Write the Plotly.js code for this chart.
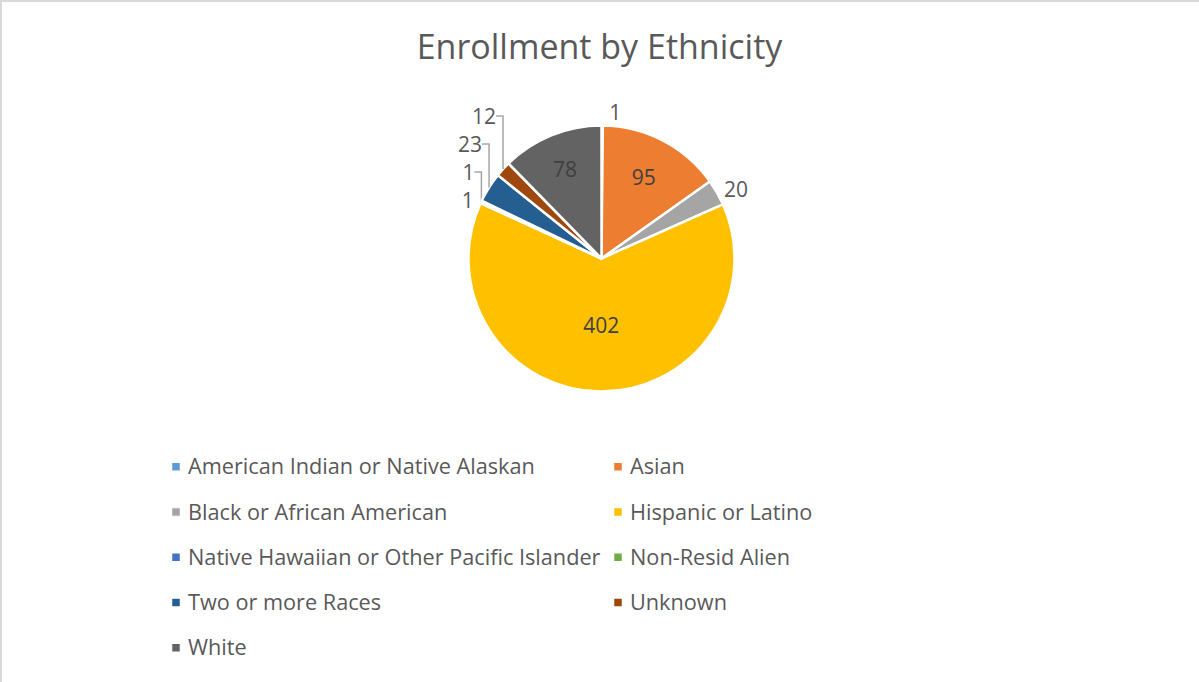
<!DOCTYPE html>
<html>
<head>
<meta charset="utf-8">
<script src="https://cdn.plot.ly/plotly-3.0.1.min.js"></script>
<style>html,body{margin:0;padding:0;background:#fff;}#chart{width:1199px;height:682px;}</style>
</head>
<body>
<div id="chart"></div>
<script>
const categories = [
  "American Indian or Native Alaskan",
  "Asian",
  "Black or African American",
  "Hispanic or Latino",
  "Native Hawaiian or Other Pacific Islander",
  "Non-Resid Alien",
  "Two or more Races",
  "Unknown",
  "White"
];
const enrollment = [1, 95, 20, 402, 1, 1, 23, 12, 78];
const sliceColors = ["#5B9BD5", "#ED7D31", "#A5A5A5", "#FFC000", "#4472C4", "#70AD47", "#255E91", "#9E480E", "#636363"];
const labelPlacement = ["outside", "inside", "outside", "inside", "outside", "outside", "outside", "outside", "inside"];
const chartTitle = "Enrollment by Ethnicity";

const W = 1199, H = 682;
const cx = 601.5, cy = 258.5, r = 133;
const FONT = "Open Sans, sans-serif";
const legendTextSize = 21.7;

const trace = {
  type: "pie",
  labels: categories,
  values: enrollment,
  sort: false,
  direction: "clockwise",
  rotation: 0,
  marker: { colors: sliceColors, line: { color: "#ffffff", width: 2.5 } },
  textinfo: "value",
  textposition: labelPlacement,
  insidetextorientation: "horizontal",
  insidetextfont: { family: FONT, size: 21, color: "#404040" },
  outsidetextfont: { family: FONT, size: 21, color: "#595959" },
  hoverinfo: "label+value+percent",
  domain: {
    x: [(cx - r) / W, (cx + r) / W],
    y: [1 - (cy + r) / H, 1 - (cy - r) / H]
  },
  automargin: false
};

const layout = {
  width: W, height: H,
  margin: { l: 0, r: 0, t: 0, b: 0 },
  paper_bgcolor: "#ffffff",
  title: {
    text: chartTitle,
    font: { family: FONT, size: 34, color: "#595959" },
    x: 0.5, xanchor: "center", y: 1 - 47 / H, yanchor: "middle"
  },
  showlegend: true,
  legend: {
    orientation: "h",
    x: 148 / W, xanchor: "left",
    y: 1 - 434 / H, yanchor: "top",
    entrywidth: 397, entrywidthmode: "pixels",
    traceorder: "normal",
    bgcolor: "rgba(0,0,0,0)",
    font: { family: FONT, size: 32.5, color: "#595959" },
    itemclick: false
  },
  shapes: [
    { type: "line", xref: "paper", yref: "paper", x0: 0, x1: 1, y0: 1 - 1 / H, y1: 1 - 1 / H, line: { color: "#D9D9D9", width: 2 } },
    { type: "line", xref: "paper", yref: "paper", x0: 1 / W, x1: 1 / W, y0: 0, y1: 1, line: { color: "#D9D9D9", width: 2 } }
  ]
};

Plotly.newPlot("chart", [trace], layout, { displayModeBar: false }).then(gd => {
  // visible legend label size smaller than the row-spacing font
  document.querySelectorAll(".legend .traces").forEach(g => {
    const t = g.querySelector(".legendtext");
    if (t) t.style.fontSize = legendTextSize + "px";
  });
  document.querySelectorAll(".legend .traces").forEach(g => {
    const t = g.querySelector(".legendtext");
    const pts = g.querySelector(".legendpoints");
    const sym = g.querySelector("path.legendpie");
    if (sym) sym.setAttribute("d", "M5,5H-5V-5H5Z");
    if (t && pts) {
      const tb = t.getBBox();
      const textCenter = tb.y + tb.height / 2 + 1;
      pts.setAttribute("transform", "translate(8," + textCenter.toFixed(1) + ")");
    }
  });
  // light grey leader lines like the reference
  document.querySelectorAll("path.textline").forEach(p => {
    p.style.stroke = "#A6A6A6";
    p.style.strokeWidth = "1.5px";
  });
});
</script>
</body>
</html>
